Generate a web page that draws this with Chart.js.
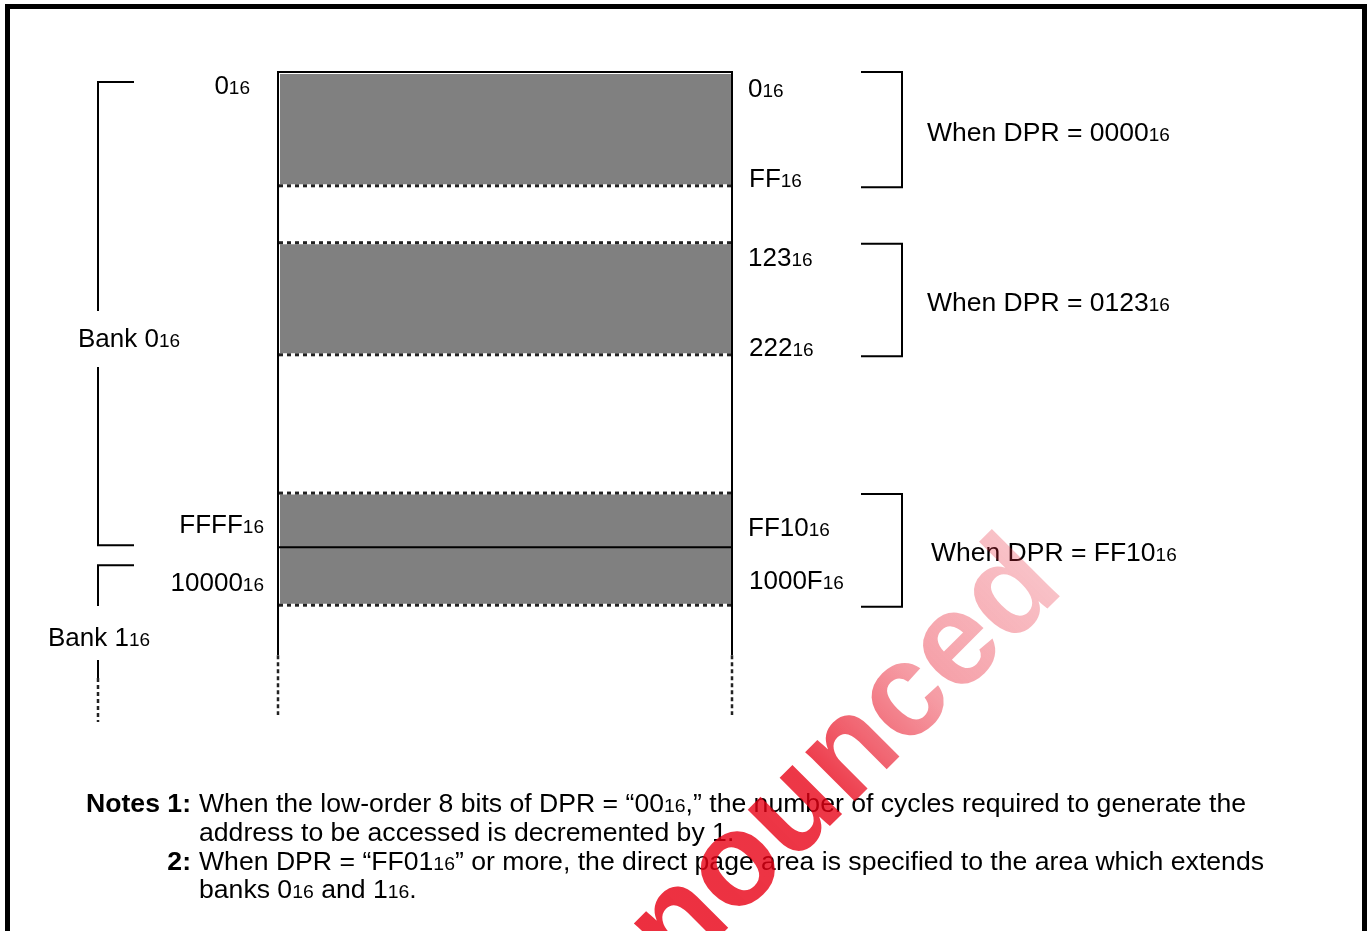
<!DOCTYPE html>
<html>
<head>
<meta charset="utf-8">
<script src="https://cdn.jsdelivr.net/npm/chart.js@4.4.0/dist/chart.umd.min.js"></script>
<style>
  body { margin: 0; background: #fff; }
  canvas { display: block; }
</style>
</head>
<body>
<canvas id="memChart" width="1369" height="931"></canvas>
<script>
// direct page areas, in schematic rows (0 = top of bank 0)
const dprValues = ['0000', '0123', 'FF10'];
const areaFirst = ['0', '123', 'FF10'];
const areaLast = ['FF', '222', '1000F'];
const areaStart = [0, 3, 7.4];
const areaEnd = [2, 4.97, 9.37];

// banks
const bankNames = ['0', '1'];
const bankFirst = ['0', '10000'];
const bankLast = ['FFFF'];
const bankBoundary = 8.35;

const notes = [
  ['Notes 1:', 'When the low-order 8 bits of DPR = “00{16},” the number of cycles required to generate the'],
  ['', 'address to be accessed is decremented by 1.'],
  ['2:', 'When DPR = “FF01{16}” or more, the direct page area is specified to the area which extends'],
  ['', 'banks 0{16} and 1{16}.']
];

const FONT = '"Liberation Sans", Arial, sans-serif';

// text with "{16}" style subscripts (smaller, same baseline)
function richText(ctx, str, x, y, size, align, bold, sx) {
  const parts = str.split(/\{(\d+)\}/);
  const b = bold ? 'bold ' : '';
  const big = b + size + 'px ' + FONT;
  const small = b + Math.round(size * 0.72) + 'px ' + FONT;
  let w = 0;
  parts.forEach((p, i) => { ctx.font = i % 2 ? small : big; w += ctx.measureText(p).width; });
  sx = sx || 1;
  ctx.save();
  ctx.translate(align === 'right' ? x - w * sx : x, y);
  ctx.scale(sx, 1);
  ctx.textAlign = 'left';
  ctx.textBaseline = 'alphabetic';
  ctx.fillStyle = '#000';
  let cx = 0;
  parts.forEach((p, i) => {
    ctx.font = i % 2 ? small : big;
    ctx.fillText(p, cx, 0);
    cx += ctx.measureText(p).width;
  });
  ctx.restore();
  return w;
}

function textWidth(ctx, str, size) {
  const parts = str.split(/\{(\d+)\}/);
  let w = 0;
  parts.forEach((p, i) => {
    ctx.font = (i % 2 ? Math.round(size * 0.72) : size) + 'px ' + FONT;
    w += ctx.measureText(p).width;
  });
  return w;
}

function hLine(ctx, x1, x2, y, w) {
  ctx.beginPath(); ctx.lineWidth = w; ctx.moveTo(x1, y); ctx.lineTo(x2, y); ctx.stroke();
}
function vLine(ctx, x, y1, y2, w) {
  ctx.beginPath(); ctx.lineWidth = w; ctx.moveTo(x, y1); ctx.lineTo(x, y2); ctx.stroke();
}
function dashedH(ctx, x1, x2, y) {
  ctx.save();
  ctx.strokeStyle = '#fff'; hLine(ctx, x1, x2, y, 3);
  ctx.strokeStyle = '#222'; ctx.setLineDash([4, 4]); hLine(ctx, x1, x2, y, 3);
  ctx.restore();
}
function dashedV(ctx, x, y1, y2) {
  ctx.save();
  ctx.strokeStyle = '#fff'; vLine(ctx, x, y1, y2, 2.5);
  ctx.strokeStyle = '#222'; ctx.setLineDash([4, 3]); vLine(ctx, x, y1, y2, 2.5);
  ctx.restore();
}

const mapPlugin = {
  id: 'memoryMap',
  afterDatasetsDraw(chart) {
    const ctx = chart.ctx;
    const y = chart.scales.y;
    const L = chart.chartArea.left, R = chart.chartArea.right;
    const py = v => y.getPixelForValue(v);
    ctx.save();
    ctx.strokeStyle = '#000';

    // white inner edge and dashed borders of the areas
    areaStart.forEach((s, i) => {
      const t = py(s), b = py(areaEnd[i]);
      ctx.strokeStyle = '#fff';
      vLine(ctx, L + 1.5, t + 1, b - 1, 1);
      if (i === 0) hLine(ctx, L + 1, R - 1, t + 1.5, 1);
      if (i > 0) dashedH(ctx, L + 1, R - 1, t);
      dashedH(ctx, L + 1, R - 1, b);
    });

    // memory column
    ctx.strokeStyle = '#000';
    const solidEnd = py(10.25), colEnd = py(y.max);
    hLine(ctx, L - 1, R + 1, py(0), 2);
    vLine(ctx, L, py(0), solidEnd, 2);
    vLine(ctx, R, py(0), solidEnd, 2);
    dashedV(ctx, L, solidEnd, colEnd);
    dashedV(ctx, R, solidEnd, colEnd);
    hLine(ctx, L, R, py(bankBoundary), 2);

    // address labels right of column
    areaStart.forEach((s, i) => {
      const t = py(s), b = py(areaEnd[i]);
      const first = [25, 23, 43][i], last = [1, 1, -16][i];
      richText(ctx, areaFirst[i] + '{16}', R + 16, t + first, 26);
      richText(ctx, areaLast[i] + '{16}', R + 17, b + last, 26);
      // bracket
      ctx.strokeStyle = '#000';
      const bt = t + (i ? 1 : 0), bb = b + 1.5;
      ctx.beginPath(); ctx.lineWidth = 2;
      ctx.moveTo(861, bt); ctx.lineTo(902, bt); ctx.lineTo(902, bb); ctx.lineTo(861, bb);
      ctx.stroke();
      richText(ctx, 'When DPR = ' + dprValues[i] + '{16}', i === 2 ? 931 : 927, (t + b) / 2 + 12, 26.5);
    });

    // bank 0 labels and bracket
    const bb0 = py(bankBoundary);
    richText(ctx, bankFirst[0] + '{16}', 250, py(0) + 22, 26, 'right');
    richText(ctx, bankLast[0] + '{16}', 264, bb0 - 14, 26, 'right');
    richText(ctx, bankFirst[1] + '{16}', 264, bb0 + 44, 26, 'right');
    ctx.strokeStyle = '#000';
    ctx.beginPath(); ctx.lineWidth = 2;
    ctx.moveTo(134, py(0) + 10); ctx.lineTo(98, py(0) + 10); ctx.lineTo(98, 311);
    ctx.moveTo(98, 367); ctx.lineTo(98, bb0 - 2); ctx.lineTo(134, bb0 - 2);
    ctx.stroke();
    richText(ctx, 'Bank ' + bankNames[0] + '{16}', 78, 347, 26);

    // bank 1
    ctx.beginPath(); ctx.lineWidth = 2;
    ctx.moveTo(134, bb0 + 18); ctx.lineTo(98, bb0 + 18); ctx.lineTo(98, 606);
    ctx.moveTo(98, 660); ctx.lineTo(98, 678);
    ctx.stroke();
    dashedV(ctx, 98, 678, 722);
    richText(ctx, 'Bank ' + bankNames[1] + '{16}', 48, 646, 26);

    // notes: slightly condensed so line 1 ends at the reference width
    const base = [812, 841, 870, 898];
    const sxNotes = 1047 / textWidth(ctx, notes[0][1], 26);
    const sx3 = 1065 / textWidth(ctx, notes[2][1], 26);
    notes.forEach((n, i) => {
      if (n[0]) richText(ctx, n[0], 191, base[i], 26, 'right', true, sxNotes);
      richText(ctx, n[1], 199, base[i], 26, 'left', false, i === 2 ? sx3 : sxNotes);
    });

    // frame
    ctx.strokeStyle = '#000';
    ctx.lineWidth = 5;
    ctx.beginPath();
    ctx.moveTo(7.5, 931); ctx.lineTo(7.5, 6.5); ctx.lineTo(1364.5, 6.5); ctx.lineTo(1364.5, 931);
    ctx.stroke();

    // watermark
    ctx.save();
    ctx.translate(1066, 590);
    ctx.rotate(-Math.PI / 4);
    ctx.font = 'bold 132px ' + FONT;
    ctx.textAlign = 'right';
    ctx.textBaseline = 'alphabetic';
    const g = ctx.createLinearGradient(-560, 0, 0, 0);
    g.addColorStop(0, 'rgba(232,0,20,0.82)');
    g.addColorStop(0.45, 'rgba(232,0,20,0.78)');
    g.addColorStop(0.7, 'rgba(232,20,40,0.42)');
    g.addColorStop(1, 'rgba(232,40,60,0.28)');
    ctx.fillStyle = g;
    ctx.fillText('announced', 0, 0);
    ctx.restore();

    ctx.restore();
  }
};

new Chart(document.getElementById('memChart'), {
  type: 'bar',
  data: {
    labels: ['memory'],
    datasets: areaStart.map((s, i) => ({
      label: 'DPR = ' + dprValues[i],
      data: [[s, areaEnd[i]]],
      backgroundColor: '#808080',
      borderWidth: 0,
      grouped: false,
      barPercentage: 1,
      categoryPercentage: 1
    }))
  },
  options: {
    responsive: false,
    animation: false,
    devicePixelRatio: 1,
    layout: { padding: { left: 278, right: 637, top: 72, bottom: 216 } },
    plugins: { legend: { display: false }, tooltip: { enabled: false } },
    scales: {
      x: { display: false },
      y: { display: false, reverse: true, min: 0, max: 11.3 }
    }
  },
  plugins: [mapPlugin]
});
</script>
</body>
</html>
